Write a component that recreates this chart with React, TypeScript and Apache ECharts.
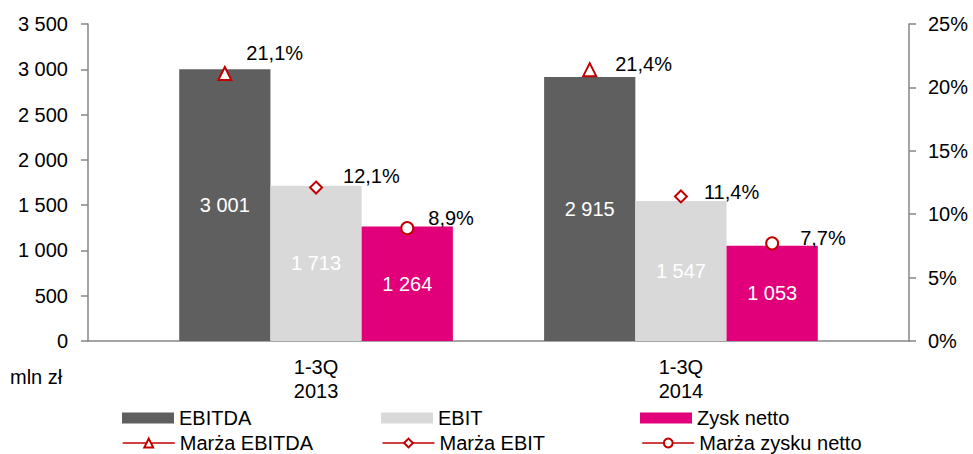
import React, { useEffect, useRef } from 'react';
import * as echarts from 'echarts';

const categories = ['1-3Q\n2013', '1-3Q\n2014'];
const barNames = ['EBITDA', 'EBIT', 'Zysk netto'];
const lineNames = ['Marża EBITDA', 'Marża EBIT', 'Marża zysku netto'];
const ebitda = [3001, 2915];
const ebit = [1713, 1547];
const zyskNetto = [1264, 1053];
const marzaEbitda = [0.211, 0.214];
const marzaEbit = [0.121, 0.114];
const marzaZysku = [0.089, 0.077];
const leftAxis = { min: 0, max: 3500, interval: 500 };
const rightAxis = { min: 0, max: 0.25, interval: 0.05 };

const FONT = 'Liberation Sans, Arial, sans-serif';
const FS = 20;
const barColors = ['#5F5F5F', '#D9D9D9', '#E2007A'];
const lineColor = '#C00000';
const symbols = ['triangle', 'diamond', 'circle'];
const slotOffsets = [-0.25, 0, 0.25];
// label offsets per line series per point (style only)
const labelOffsets = [
  [[9, -20], [13, -6]],
  [[15, -12], [11, -4]],
  [[9, -10], [16, -5]],
];

const thousands = (v: number) => String(v).replace(/\B(?=(\d{3})+(?!\d))/g, ' ');
const pct1 = (v: number) => (v * 100).toFixed(1).replace('.', ',') + '%';

export default function App() {
  const ref = useRef<HTMLDivElement>(null);
  useEffect(() => {
    if (!ref.current) return;
    const chart = echarts.init(ref.current, null, { renderer: 'svg' });
    const barData = [ebitda, ebit, zyskNetto];
    const lineData = [marzaEbitda, marzaEbit, marzaZysku];
    const axisGray = '#868686';

    const series: any[] = [];
    barData.forEach((arr, s) => {
      series.push({
        name: barNames[s],
        type: 'bar',
        xAxisIndex: 0,
        yAxisIndex: 0,
        barWidth: '25%',
        barGap: '0%',
        itemStyle: { color: barColors[s] },
        label: {
          show: true,
          position: 'inside',
          color: '#fff',
          fontSize: FS,
          fontFamily: FONT,
          formatter: (p: any) => thousands(p.value[1]),
        },
        data: arr.map((v, i) => [i, v]),
        z: 2,
      });
    });
    lineData.forEach((arr, s) => {
      series.push({
        name: lineNames[s],
        type: 'line',
        xAxisIndex: 0,
        yAxisIndex: 1,
        symbol: symbols[s],
        symbolSize: s === 0 ? 13 : 12,
        showSymbol: true,
        lineStyle: { color: lineColor, width: 1.5, opacity: 0 },
        itemStyle: { color: '#fff', borderColor: lineColor, borderWidth: 2 },
        label: {
          show: true,
          position: 'right',
          color: '#000',
          fontSize: FS,
          fontFamily: FONT,
          formatter: (p: any) => pct1(p.value[1]),
        },
        data: arr.map((v, i) => ({
          value: [i + slotOffsets[s], v],
          label: { offset: labelOffsets[s][i] },
        })),
        z: 5,
      });
    });

    const legendCommon = {
      padding: 0,
      itemWidth: 52,
      itemHeight: 11,
      itemGap: 10,
      textStyle: { fontSize: FS, fontFamily: FONT, color: '#000', width: 192, lineHeight: 18 },
      selectedMode: false,
    };

    const yAxisCommon = {
      type: 'value',
      axisLine: { show: true, onZero: false, lineStyle: { color: axisGray, width: 1.5 } },
      axisTick: { show: true, length: 7, lineStyle: { color: axisGray, width: 1.5 } },
      splitLine: { show: false },
    };

    chart.setOption({
      animation: false,
      backgroundColor: '#fff',
      textStyle: { fontFamily: FONT },
      grid: { left: 88, right: 64, top: 24, bottom: 113, containLabel: false },
      xAxis: [
        {
          type: 'value',
          min: -0.625,
          max: 1.625,
          axisLine: { show: true, onZero: false, lineStyle: { color: axisGray, width: 1.5 } },
          axisTick: { show: false },
          splitLine: { show: false },
          axisLabel: {
            customValues: [0, 1],
            formatter: (v: number) => categories[Math.round(v)] ?? '',
            color: '#000',
            fontSize: FS,
            fontFamily: FONT,
            lineHeight: 24,
            margin: 14,
          },
        },
      ],
      yAxis: [
        {
          ...yAxisCommon,
          position: 'left',
          min: leftAxis.min,
          max: leftAxis.max,
          interval: leftAxis.interval,
          axisLabel: {
            color: '#000',
            fontSize: FS,
            fontFamily: FONT,
            margin: 20,
            formatter: (v: number) => thousands(v),
          },
        },
        {
          ...yAxisCommon,
          position: 'right',
          min: rightAxis.min,
          max: rightAxis.max,
          interval: rightAxis.interval,
          axisLabel: {
            color: '#000',
            fontSize: FS,
            fontFamily: FONT,
            margin: 19,
            formatter: (v: number) => Math.round(v * 100) + '%',
          },
        },
      ],
      legend: [
        { ...legendCommon, left: 122, top: 408, data: barNames.map((n) => ({ name: n, icon: 'rect' })) },
        {
          ...legendCommon,
          left: 122,
          top: 433,
          lineStyle: { opacity: 1, width: 1.5, color: lineColor },
          data: lineNames,
        },
      ],
      graphic: [
        {
          type: 'text',
          left: 10,
          top: 367,
          style: { text: 'mln zł', font: `${FS}px ${FONT}`, fill: '#000' },
        },
      ],
      series,
    });
    return () => chart.dispose();
  }, []);
  return (
    <div
      ref={ref}
      style={{ position: 'fixed', left: 0, top: 0, width: 973, height: 454, background: '#fff' }}
    />
  );
}
